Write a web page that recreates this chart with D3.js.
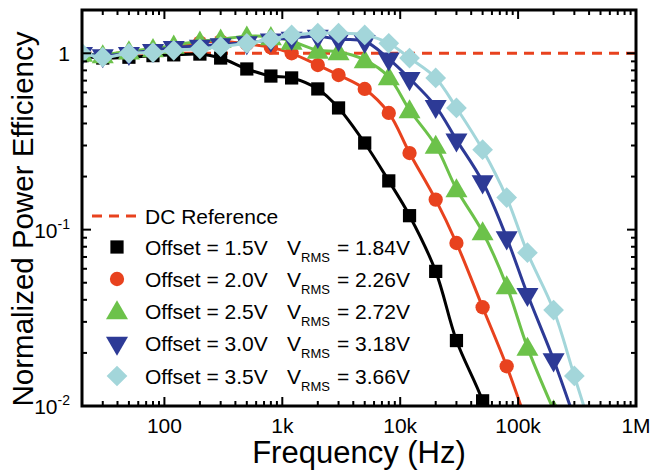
<!DOCTYPE html>
<html>
<head>
<meta charset="utf-8">
<script src="https://cdn.jsdelivr.net/npm/d3@7"></script>
<style>
body { margin: 0; background: #fff; }
text { font-family: "Liberation Sans", Arial, sans-serif; fill: #000; }
</style>
</head>
<body>
<svg></svg>
<script>
var width = 652, height = 471;
var margin = { top: 10, right: 16, bottom: 65, left: 82 };

// data
var freqs = [20, 30, 50, 80, 120, 200, 300, 500, 800, 1200, 2000, 3000, 5000, 8000,
	12000, 20000, 30000, 50000, 80000, 120000, 200000, 300000, 500000];
var off15 = [0.97, 0.94, 0.95, 0.97, 0.98, 0.99, 0.94, 0.815, 0.743, 0.725, 0.628, 0.49,
	0.31, 0.189, 0.12, 0.058, 0.0235, 0.0107, 0.004];
var off20 = [1.0, 0.97, 1.0, 1.03, 1.08, 1.15, 1.17, 1.13, 1.08, 1.0, 0.858, 0.753, 0.628,
	0.459, 0.272, 0.148, 0.084, 0.0363, 0.0168, 0.0078];
var off25 = [1.0, 0.98, 1.03, 1.06, 1.11, 1.17, 1.2, 1.25, 1.24, 1.17, 1.04, 1.02, 0.917,
	0.734, 0.477, 0.3, 0.17, 0.097, 0.048, 0.0215, 0.0095];
var off30 = [1.0, 0.97, 1.0, 1.04, 1.08, 1.1, 1.12, 1.15, 1.19, 1.22, 1.25, 1.2, 1.17,
	0.93, 0.72, 0.5, 0.323, 0.187, 0.09, 0.043, 0.0183, 0.0085];
var off35 = [1.0, 0.95, 1.0, 1.01, 1.04, 1.06, 1.09, 1.14, 1.2, 1.27, 1.3, 1.3, 1.27,
	1.14, 0.94, 0.725, 0.49, 0.284, 0.152, 0.074, 0.035, 0.0148, 0.005];
var offsets = ["1.5V", "2.0V", "2.5V", "3.0V", "3.5V"];
var vrms = ["1.84V", "2.26V", "2.72V", "3.18V", "3.66V"];
var xTickVals = [100, 1e3, 1e4, 1e5, 1e6];
var xTickLabels = ["100", "1k", "10k", "100k", "1M"];
var yTickVals = [0.01, 0.1, 1];
var dcLevel = 1;

var colors = ["#000000", "#e8421e", "#6cc24a", "#2d3a96", "#a3d6da"];
// diamond = square turned 45 degrees
var symbols = [d3.symbolSquare, d3.symbolCircle, d3.symbolTriangle, d3.symbolTriangle, d3.symbolSquare];
var symSizes = [175, 160, 210, 210, 215];
var rot = [0, 0, 0, 180, 45];

var series = [off15, off20, off25, off30, off35].map((vals, i) => ({
	i: i,
	pts: vals.map((v, j) => [freqs[j], v])
}));

var svg = d3.select("svg").attr("width", width).attr("height", height);
var iw = width - margin.left - margin.right,
	ih = height - margin.top - margin.bottom;

var x = d3.scaleLog().domain([20, 1e6]).range([0, iw]);
var y = d3.scaleLog().domain([0.01, 1.76]).range([ih, 0]);

var g = svg.append("g").attr("transform", `translate(${margin.left},${margin.top})`);

g.append("clipPath").attr("id", "clip").append("rect").attr("width", iw).attr("height", ih);

var plot = g.append("g").attr("clip-path", "url(#clip)");

// DC reference
plot.append("line")
	.attr("x1", 0).attr("x2", iw)
	.attr("y1", y(dcLevel)).attr("y2", y(dcLevel))
	.attr("stroke", "#e8421e").attr("stroke-width", 3).attr("stroke-dasharray", "10,7");

var line = d3.line().x((d) => x(d[0])).y((d) => y(d[1])).curve(d3.curveCatmullRom.alpha(0.5));

var marker = (i) => ` rotate(${rot[i]})` + (i == 2 ? " translate(0,2)" : "");

series.forEach((s) => {
	plot.append("path").attr("d", line(s.pts))
		.attr("fill", "none").attr("stroke", colors[s.i]).attr("stroke-width", 3);
	plot.selectAll(null).data(s.pts).enter().append("path")
		.attr("d", d3.symbol().type(symbols[s.i]).size(symSizes[s.i]))
		.attr("transform", (d) => `translate(${x(d[0])},${y(d[1])})` + marker(s.i))
		.attr("fill", colors[s.i]);
});

// ticks, all four sides, pointing in
var minorX = [];
for (var e = 1; e < 6; e++) for (var k = 1; k < 10; k++) {
	var v = k * Math.pow(10, e);
	if (v >= 20 && v <= 1e6) minorX.push(v);
}
var minorY = [];
for (var e = -2; e < 1; e++) for (var k = 1; k < 10; k++) {
	var v = k * Math.pow(10, e);
	if (v >= 0.01 && v <= 1.76) minorY.push(v);
}
var ticks = g.append("g").attr("stroke", "#000").attr("stroke-width", 2);
minorX.forEach((v) => {
	var len = xTickVals.includes(v) ? 9 : 5;
	ticks.append("line").attr("x1", x(v)).attr("x2", x(v)).attr("y1", ih).attr("y2", ih - len);
	ticks.append("line").attr("x1", x(v)).attr("x2", x(v)).attr("y1", 0).attr("y2", len);
});
minorY.forEach((v) => {
	var len = yTickVals.includes(v) ? 9 : 5;
	ticks.append("line").attr("y1", y(v)).attr("y2", y(v)).attr("x1", 0).attr("x2", len);
	ticks.append("line").attr("y1", y(v)).attr("y2", y(v)).attr("x1", iw).attr("x2", iw - len);
});

g.append("rect").attr("width", iw).attr("height", ih)
	.attr("fill", "none").attr("stroke", "#000").attr("stroke-width", 3);

// tick labels
g.selectAll(".xl").data(xTickVals).enter().append("text")
	.attr("x", (d) => x(d)).attr("y", ih + 27)
	.attr("text-anchor", "middle").attr("font-size", 21)
	.text((d, i) => xTickLabels[i]);

g.append("text").attr("x", -12).attr("y", y(1) + 8).attr("text-anchor", "end")
	.attr("font-size", 21).text("1");
[0.1, 0.01].forEach((v) => {
	var t = g.append("text").attr("x", -12).attr("y", y(v) + 8).attr("text-anchor", "end")
		.attr("font-size", 21);
	t.append("tspan").text("10");
	t.append("tspan").attr("dy", -9).attr("font-size", 14).text(v == 0.1 ? "-1" : "-2");
});

// axis titles
svg.append("text").attr("x", margin.left + iw / 2).attr("y", 463)
	.attr("text-anchor", "middle").attr("font-size", 31).text("Frequency (Hz)");
svg.append("text").attr("transform", `translate(33,${margin.top + ih / 2 + 11}) rotate(-90)`)
	.attr("text-anchor", "middle").attr("font-size", 29.5).text("Normalized Power Efficiency");

// legend
var lg = svg.append("g");
var rowY = [216, 247, 279, 311, 343, 376];
lg.append("line").attr("x1", 92).attr("x2", 140).attr("y1", rowY[0]).attr("y2", rowY[0])
	.attr("stroke", "#e8421e").attr("stroke-width", 3).attr("stroke-dasharray", "10,7");
lg.append("text").attr("x", 145).attr("y", rowY[0] + 8).attr("font-size", 21).text("DC Reference");
offsets.forEach((o, i) => {
	var yy = rowY[i + 1];
	lg.append("path")
		.attr("d", d3.symbol().type(symbols[i]).size(symSizes[i]))
		.attr("transform", `translate(117,${yy})` + marker(i))
		.attr("fill", colors[i]);
	lg.append("text").attr("x", 145).attr("y", yy + 8).attr("font-size", 21).text("Offset = " + o);
	var t = lg.append("text").attr("x", 287).attr("y", yy + 8).attr("font-size", 21);
	t.append("tspan").text("V");
	t.append("tspan").attr("dy", 7).attr("font-size", 13).text("RMS");
	t.append("tspan").attr("x", 337).attr("dy", -7).text("= " + vrms[i]);
});
</script>
</body>
</html>
